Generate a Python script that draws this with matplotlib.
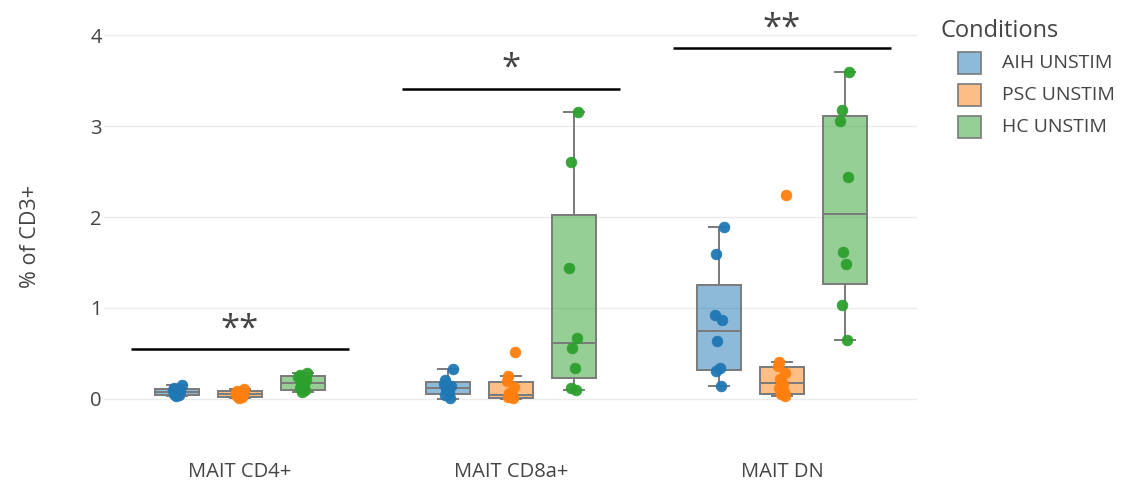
import matplotlib
matplotlib.use("Agg")
import matplotlib.pyplot as plt
from matplotlib.patches import Rectangle
from matplotlib.colors import to_rgba

plt.rcParams["font.family"] = ["Open Sans", "DejaVu Sans"]

categories = ["MAIT CD4+", "MAIT CD8a+", "MAIT DN"]
conditions = ["AIH UNSTIM", "PSC UNSTIM", "HC UNSTIM"]
colors = ["#1f77b4", "#ff7f0e", "#2ca02c"]

# individual measurements, per condition, per population
aih_points = [
    [0.15, 0.12, 0.10, 0.09, 0.07, 0.06, 0.05, 0.04, 0.03],
    [0.33, 0.21, 0.17, 0.14, 0.11, 0.07, 0.04, 0.01],
    [1.89, 1.59, 0.92, 0.87, 0.64, 0.34, 0.31, 0.14],
]
psc_points = [
    [0.11, 0.09, 0.07, 0.06, 0.05, 0.04, 0.03, 0.02, 0.01],
    [0.52, 0.25, 0.20, 0.13, 0.07, 0.04, 0.02, 0.01],
    [2.24, 0.41, 0.36, 0.29, 0.22, 0.17, 0.12, 0.08, 0.05, 0.03],
]
hc_points = [
    [0.29, 0.26, 0.24, 0.21, 0.18, 0.16, 0.12, 0.10, 0.08],
    [3.15, 2.60, 1.44, 0.67, 0.56, 0.34, 0.12, 0.10],
    [3.59, 3.18, 3.06, 2.44, 1.62, 1.48, 1.03, 0.65],
]

# box summaries: (whisker low, q1, median, q3, whisker high)
aih_boxes = [(0.03, 0.045, 0.075, 0.11, 0.15),
             (0.00, 0.05, 0.12, 0.19, 0.33),
             (0.14, 0.32, 0.75, 1.25, 1.89)]
psc_boxes = [(0.01, 0.025, 0.05, 0.085, 0.11),
             (0.00, 0.01, 0.045, 0.19, 0.25),
             (0.03, 0.06, 0.18, 0.355, 0.41)]
hc_boxes = [(0.08, 0.10, 0.18, 0.25, 0.29),
            (0.10, 0.23, 0.62, 2.02, 3.15),
            (0.65, 1.26, 2.03, 3.11, 3.59)]

# significance marks per population
sig_labels = ["**", "*", "**"]
sig_heights = [0.55, 3.41, 3.86]

y_ticks = [0, 1, 2, 3, 4]

points_by_condition = [aih_points, psc_points, hc_points]
boxes_by_condition = [aih_boxes, psc_boxes, hc_boxes]

# horizontal spread of the dots around each box centre (in box half-widths)
spread = [0.2, -0.12, -0.2, 0.15, -0.08, 0.06, -0.14, 0.1, -0.04, 0.12]

offset = 0.232
box_width = 0.163
text_color = "#444444"
edge = "#7a7a7a"

fig = plt.figure(figsize=(11.22, 4.88), dpi=100)
ax = fig.add_axes([0.0931, 0.1078, 0.7246, 0.8764])

for ci, (pts_list, box_list, col) in enumerate(zip(points_by_condition, boxes_by_condition, colors)):
    fill = to_rgba(col, 0.5)
    for gi in range(len(categories)):
        xc = gi + (ci - 1) * offset
        lo, q1, med, q3, hi = box_list[gi]
        stats = [dict(whislo=lo, q1=q1, med=med, q3=q3, whishi=hi, fliers=[])]
        ax.bxp(stats, positions=[xc], widths=box_width, patch_artist=True,
               showfliers=False, manage_ticks=False,
               boxprops=dict(facecolor=fill, edgecolor=edge, linewidth=1.4),
               medianprops=dict(color=edge, linewidth=1.4),
               whiskerprops=dict(color=edge, linewidth=1.4),
               capprops=dict(color=edge, linewidth=1.4),
               capwidths=box_width * 0.45, zorder=2)
        vals = pts_list[gi]
        xs = [xc + spread[k % len(spread)] * box_width / 2 for k in range(len(vals))]
        ax.scatter(xs, vals, s=60, color=col, edgecolors=col, linewidths=0.5,
                   zorder=3, alpha=0.95)

for gi, (lab, h) in enumerate(zip(sig_labels, sig_heights)):
    ax.plot([gi - 0.402, gi + 0.402], [h, h], color="black", linewidth=1.8,
            solid_capstyle="butt", zorder=4, clip_on=False)
    ax.text(gi, h + 0.03, lab, ha="center", va="bottom", fontsize=25,
            color=text_color, clip_on=False)

ax.set_xlim(-0.5, 2.5)
ax.set_ylim(-0.4, 4.3)
ax.set_yticks(y_ticks)
ax.set_xticks(range(len(categories)))
ax.set_xticklabels(categories)
ax.tick_params(axis="x", length=0, pad=19, labelsize=14.5, labelcolor=text_color)
ax.tick_params(axis="y", length=0, pad=2, labelsize=14.5, labelcolor=text_color)
ax.grid(axis="y", color="#ebebeb", linewidth=1.0, zorder=0)
ax.set_axisbelow(True)
for sp in ax.spines.values():
    sp.set_visible(False)

fig.text(30 / 1122, 1 - 236 / 488, "% of CD3+", rotation=90, ha="center",
         va="center", fontsize=15.5, color=text_color)

# legend
fig.text(940 / 1122, 1 - 31 / 488, "Conditions", ha="left", va="center",
         fontsize=17, color=text_color)
for k, (name, col) in enumerate(zip(conditions, colors)):
    yc = 63 + k * 32
    fig.add_artist(Rectangle((958 / 1122, 1 - (yc + 11) / 488), 23 / 1122, 22 / 488,
                             transform=fig.transFigure, facecolor=to_rgba(col, 0.5),
                             edgecolor=edge, linewidth=1.2))
    fig.text(1002 / 1122, 1 - yc / 488, name, ha="left", va="center",
             fontsize=14, color=text_color)

fig.savefig("out.png", dpi=100, facecolor="white")
